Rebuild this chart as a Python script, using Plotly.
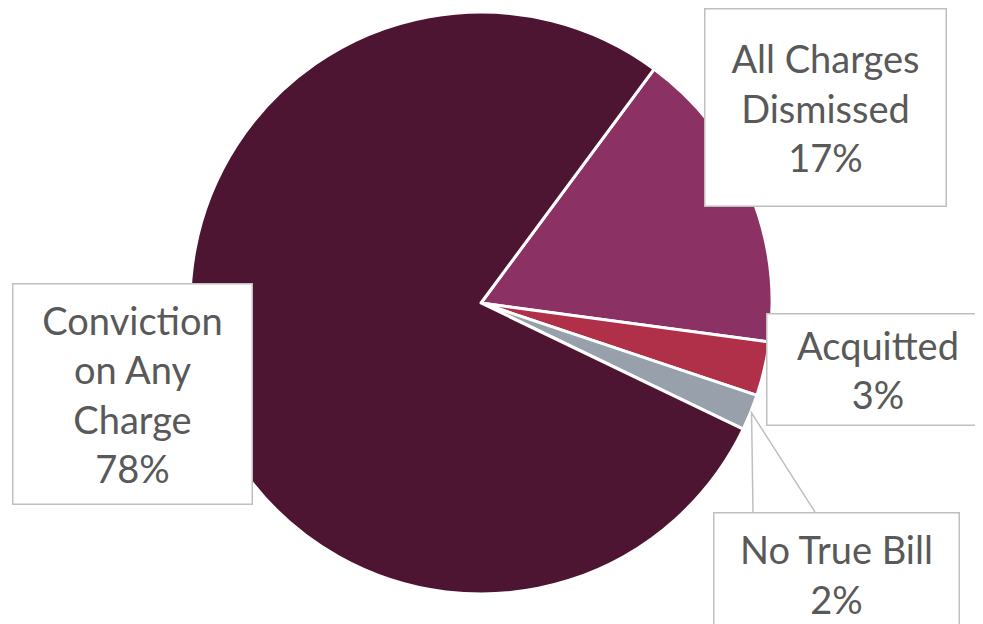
import math
import plotly.graph_objects as go

# ---- data ----
labels = ["All Charges Dismissed", "Acquitted", "No True Bill", "Conviction on Any Charge"]
label_text = ["All Charges<br>Dismissed", "Acquitted", "No True Bill", "Conviction<br>on Any<br>Charge"]
values = [17, 3, 2, 78]
colors = ["#8C3163", "#B0304A", "#98A1AB", "#4E1533"]

W, H = 983, 624
OFF = 8  # page offset of the figure inside the window
ROT = 36.5
cx, cy, R = 481 - OFF, 303 - OFF, 291

fig = go.Figure(go.Pie(
    labels=labels, values=values, sort=False, direction="clockwise",
    rotation=ROT, textinfo="none", hoverinfo="label+percent",
    marker=dict(colors=colors, line=dict(color="white", width=3)),
    domain=dict(x=[(cx - R) / W, (cx + R) / W], y=[1 - (cy + R) / H, 1 - (cy - R) / H]),
    showlegend=False,
))

# label boxes (left, top, width, height in window px)
boxes = [(704, 8, 243, 199), (766, 313, 224, 113), (713, 512, 247, 124), (12, 283, 241, 222)]
total = sum(values)
for txt, v, (bx, by, bw, bh) in zip(label_text, values, boxes):
    fig.add_annotation(
        x=(bx - OFF) / W, y=1 - (by - OFF) / H, xref="paper", yref="paper",
        xanchor="left", yanchor="top",
        text=f"{txt}<br>{round(v / total * 100)}%", showarrow=False,
        width=bw - 3, height=bh - 3, align="center", valign="middle",
        bgcolor="white", bordercolor="#BFBFBF", borderwidth=1.5, borderpad=0,
        font=dict(family="Lato", size=38, color="#595959"),
    )

# callout for No True Bill: tip at middle of the slice's outer edge
start = sum(values[:2])
mid = ROT + (start + values[2] / 2) / total * 360
tx = cx + (R + 1) * math.sin(math.radians(mid))
ty = cy - (R + 1) * math.cos(math.radians(mid))
fig.add_shape(type="path", xref="paper", yref="paper",
              path=(f"M {(753 - OFF) / W} {1 - (512 - OFF) / H} L {tx / W} {1 - ty / H} "
                    f"L {(815 - OFF) / W} {1 - (512 - OFF) / H}"),
              line=dict(color="#BFBFBF", width=1.5))

fig.update_layout(width=W, height=H, margin=dict(l=0, r=0, t=0, b=0),
                  paper_bgcolor="white", plot_bgcolor="white")
fig.write_html("out.html")
